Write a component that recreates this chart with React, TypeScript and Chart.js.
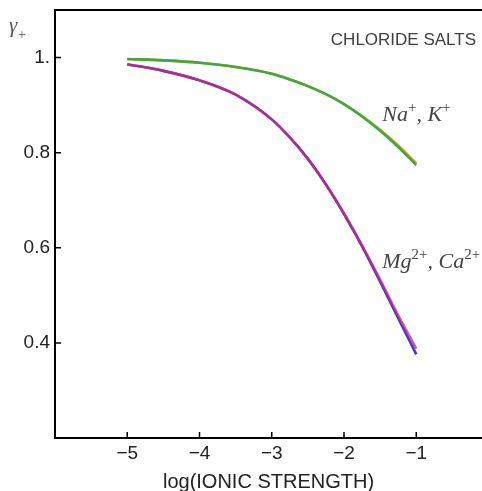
import React, { useEffect, useRef } from 'react';
import { Chart, registerables } from 'chart.js';
Chart.register(...registerables);

const xValues = [-5, -4.5, -4, -3.5, -3, -2.75, -2.5, -2.25, -2, -1.75, -1.5, -1.25, -1];
const naValues = [0.997, 0.994, 0.989, 0.98, 0.966, 0.954, 0.94, 0.923, 0.902, 0.876, 0.846, 0.812, 0.774];
const kValues = [0.997, 0.994, 0.989, 0.98, 0.966, 0.954, 0.94, 0.923, 0.902, 0.877, 0.848, 0.815, 0.778];
const caValues = [0.986, 0.972, 0.952, 0.922, 0.87, 0.832, 0.787, 0.733, 0.672, 0.605, 0.533, 0.458, 0.388];
const mgValues = [0.986, 0.972, 0.952, 0.922, 0.87, 0.832, 0.787, 0.733, 0.671, 0.603, 0.529, 0.452, 0.376];

const xTicks = [-5, -4, -3, -2, -1];
const xTickLabels = ['\u22125', '\u22124', '\u22123', '\u22122', '\u22121'];
const yTicks = [1.0, 0.8, 0.6, 0.4];
const yTickLabels = ['1.', '0.8', '0.6', '0.4'];

const X_MIN = -6.0;
const X_MAX = -0.09;
const Y_MIN = 0.2;
const Y_MAX = 1.1;

const naLabelPos = { x: -1.47, y: 0.8675 };
const mgLabelPos = { x: -1.47, y: 0.557 };

type Part = { t: string; sup?: boolean; sub?: boolean };

function drawRich(ctx: CanvasRenderingContext2D, parts: Part[], x: number, y: number, size: number, color: string) {
  let cx = x;
  ctx.fillStyle = color;
  ctx.textBaseline = 'alphabetic';
  ctx.textAlign = 'left';
  for (const p of parts) {
    if (p.sup) {
      ctx.font = `${Math.round(size * 0.7)}px 'Liberation Serif'`;
      ctx.fillText(p.t, cx, y - size * 0.4);
    } else if (p.sub) {
      ctx.font = `${Math.round(size * 0.68)}px 'Liberation Serif'`;
      ctx.fillText(p.t, cx, y + size * 0.28);
    } else {
      ctx.font = `italic ${size}px 'Liberation Serif'`;
      ctx.fillText(p.t, cx, y);
    }
    cx += ctx.measureText(p.t).width;
  }
}

const decorPlugin = {
  id: 'decor',
  afterDraw(chart: any) {
    const { ctx, chartArea, scales } = chart;
    const xs = scales.x;
    const ys = scales.y;
    ctx.save();
    ctx.strokeStyle = '#000';
    ctx.lineWidth = 1.5;
    ctx.beginPath();
    for (const v of xTicks) {
      const px = xs.getPixelForValue(v);
      ctx.moveTo(px, chartArea.bottom);
      ctx.lineTo(px, chartArea.bottom - 6);
    }
    for (const v of yTicks) {
      const py = ys.getPixelForValue(v);
      ctx.moveTo(chartArea.left, py);
      ctx.lineTo(chartArea.left + 6, py);
    }
    ctx.stroke();
    ctx.lineWidth = 2;
    ctx.beginPath();
    ctx.moveTo(chartArea.left - 1, chartArea.top);
    ctx.lineTo(chart.width, chartArea.top);
    ctx.stroke();

    // corner title
    ctx.font = "17px 'Liberation Sans'";
    ctx.fillStyle = '#404040';
    ctx.textAlign = 'right';
    ctx.textBaseline = 'middle';
    ctx.fillText('CHLORIDE SALTS', 476, 40);

    // y axis symbol
    ctx.fillStyle = '#555';
    ctx.textAlign = 'left';
    ctx.textBaseline = 'alphabetic';
    ctx.font = "italic 21px 'Liberation Serif'";
    ctx.fillText('\u03b3', 9, 32);
    ctx.font = "14px 'Liberation Serif'";
    ctx.fillText('+', 18, 39);

    drawRich(
      ctx,
      [{ t: 'Na' }, { t: '+', sup: true }, { t: ', K' }, { t: '+', sup: true }],
      xs.getPixelForValue(naLabelPos.x),
      ys.getPixelForValue(naLabelPos.y),
      22,
      '#444'
    );
    drawRich(
      ctx,
      [{ t: 'Mg' }, { t: '2+', sup: true }, { t: ', Ca' }, { t: '2+', sup: true }],
      xs.getPixelForValue(mgLabelPos.x),
      ys.getPixelForValue(mgLabelPos.y),
      22,
      '#444'
    );
    ctx.restore();
  },
};

export default function App() {
  const ref = useRef<HTMLCanvasElement | null>(null);
  useEffect(() => {
    if (!ref.current) return;
    const mk = (ys: number[]) => xValues.map((x, i) => ({ x, y: ys[i] }));
    const chart = new Chart(ref.current, {
      type: 'line',
      data: {
        datasets: [
          { label: 'Na+', data: mk(naValues), borderColor: 'rgb(64,168,64)', borderWidth: 2.6 },
          { label: 'K+', data: mk(kValues), borderColor: 'rgb(222,160,40)', borderWidth: 2.6 },
          { label: 'Ca2+', data: mk(caValues), borderColor: 'rgba(205,40,125,0.78)', borderWidth: 2.6 },
          { label: 'Mg2+', data: mk(mgValues), borderColor: 'rgb(60,60,215)', borderWidth: 2.6 },
        ] as any,
      },
      options: {
        animation: false,
        responsive: true,
        maintainAspectRatio: false,
        layout: { padding: { top: 10, right: 0, left: 0, bottom: 0 } },
        elements: { point: { radius: 0 }, line: { cubicInterpolationMode: 'monotone' } },
        plugins: { legend: { display: false }, tooltip: { enabled: false } },
        scales: {
          x: {
            type: 'linear',
            min: X_MIN,
            max: X_MAX,
            grid: { display: false, drawTicks: false },
            border: { display: true, color: '#000', width: 2 },
            afterBuildTicks: (s: any) => {
              s.ticks = xTicks.map((v) => ({ value: v }));
            },
            afterFit: (s: any) => {
              s.height = 53;
              s.paddingLeft = 0;
              s.paddingRight = 0;
            },
            ticks: {
              padding: 4,
              color: '#222',
              font: { family: 'Liberation Sans', size: 19 },
              maxRotation: 0,
              callback: (v: any) => {
                const i = xTicks.indexOf(Number(v));
                return i >= 0 ? xTickLabels[i] : '';
              },
            },
            title: {
              display: true,
              text: 'log(IONIC STRENGTH)',
              color: '#222',
              font: { family: 'Liberation Sans', size: 20 },
              padding: { top: 0, bottom: -3 },
            },
          },
          y: {
            type: 'linear',
            min: Y_MIN,
            max: Y_MAX,
            grid: { display: false, drawTicks: false },
            border: { display: true, color: '#000', width: 2 },
            afterBuildTicks: (s: any) => {
              s.ticks = yTicks.map((v) => ({ value: v }));
            },
            afterFit: (s: any) => {
              s.width = 55;
              s.paddingTop = 0;
              s.paddingBottom = 0;
            },
            ticks: {
              padding: 5,
              color: '#222',
              font: { family: 'Liberation Sans', size: 19 },
              callback: (v: any) => {
                const i = yTicks.findIndex((t) => Math.abs(t - Number(v)) < 1e-9);
                return i >= 0 ? yTickLabels[i] : '';
              },
            },
          },
        },
      },
      plugins: [decorPlugin],
    } as any);
    return () => chart.destroy();
  }, []);
  return (
    <div style={{ position: 'absolute', left: 0, top: 0, width: 482, height: 491, background: '#fff' }}>
      <canvas ref={ref} />
    </div>
  );
}
